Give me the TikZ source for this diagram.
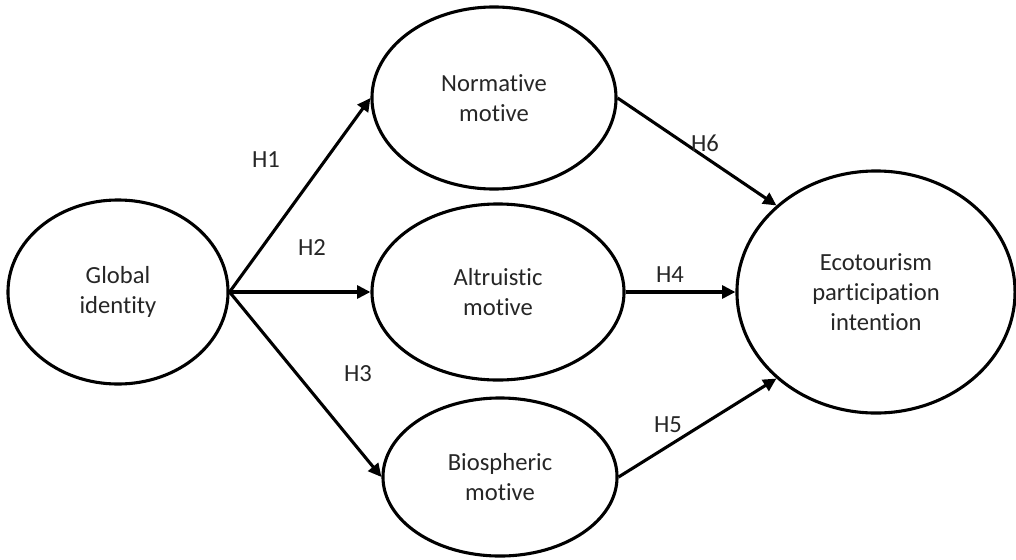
\documentclass[tikz,border=0pt]{standalone}
\usepackage{fontspec}
\setmainfont{Carlito}[Ligatures={NoCommon}]
\usetikzlibrary{shapes.geometric,arrows.meta}

\begin{document}
\begin{tikzpicture}[x=0.025cm, y=-0.025cm,
    construct/.style = {ellipse, draw, line width=2.2pt, inner sep=0pt, align=center,
                        text=black!85, font=\fontsize{17.5}{21.5}\selectfont},
    path/.style      = {line width=2.2pt, -{Triangle[length=3.3mm, width=3.2mm]}},
    hyp/.style       = {text=black!85, font=\fontsize{17.5}{21.5}\selectfont}]

    \useasboundingbox (0,0) rectangle (1016,559);

    % Draw the constructs
    \node[construct, minimum width=5.5cm, minimum height=4.6cm] (gi) at (118,292) {Global\\identity};
    \node[construct, minimum width=6.1cm, minimum height=4.55cm] (nm) at (494,98) {Normative\\motive};
    \node[construct, minimum width=6.3cm, minimum height=4.4cm] (am) at (498,292) {Altruistic\\motive};
    \node[construct, minimum width=5.85cm, minimum height=3.95cm] (bm) at (500,477) {Biospheric\\motive};
    \node[construct, minimum width=6.95cm, minimum height=6.05cm] (ei) at (876,292) {Ecotourism\\participation\\intention};

    % paths from global identity
    \draw[path] (gi.east) -- (nm.west);
    \draw[path] (gi.east) -- (am.west);
    \draw[path] (gi.east) -- (bm.west);

    % paths to intention
    \draw[path] (nm.east) -- (ei.139);
    \draw[path] (am.east) -- (ei.west);
    \draw[path] (bm.east) -- (ei.221);

    % hypothesis labels
    \node[hyp] (h1) at (266,160) {H1};
    \node[hyp] (h2) at (312,248) {H2};
    \node[hyp] (h3) at (358,374) {H3};
    \node[hyp] (h4) at (670,275) {H4};
    \node[hyp] (h5) at (668,425) {H5};
    \node[hyp] (h6) at (705,143) {H6};

\end{tikzpicture}
\end{document}
